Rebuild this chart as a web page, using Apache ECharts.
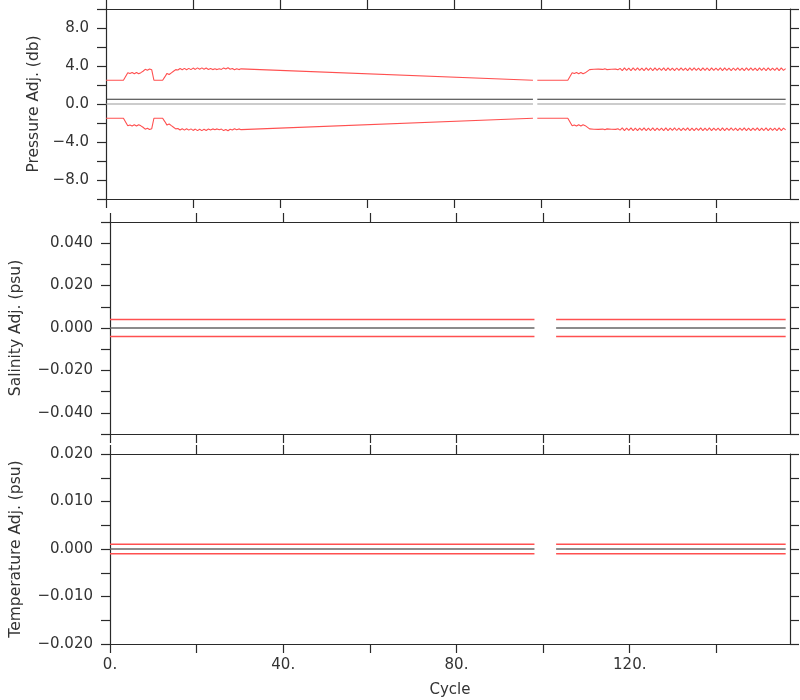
<!DOCTYPE html>
<html><head><meta charset="utf-8">
<script src="https://cdn.jsdelivr.net/npm/echarts@6/dist/echarts.min.js"></script>
<style>html,body{margin:0;padding:0;background:#fff}#c{width:800px;height:700px}</style>
</head><body><div id="c"></div>
<script>
// ---------- data ----------
const xTickValues = [0, 20, 40, 60, 80, 100, 120, 140];
const xLabelValues = [0, 40, 80, 120];
const panelNames = ['Pressure Adj. (db)', 'Salinity Adj. (psu)', 'Temperature Adj. (psu)'];

// Pressure: adjustment 0.5 db, error bounds
const pAdj = 0.5;
const pZero = 0;
// segment A (cycles 0..98)
const pCycAHead = [0, 4, 5, 5.5, 6, 6.5, 7, 7.5, 8, 8.5, 9, 9.5, 10, 10.5, 11, 13, 13.5, 14, 14.5, 15, 15.5, 16];
const pErrAHead = [2.0, 2.0, 2.8, 2.7, 2.82, 2.68, 2.82, 2.68, 2.8, 2.95, 3.15, 3.05, 3.18, 3.1, 2.0, 2.0, 2.35, 2.72, 2.6, 2.78, 2.95, 3.12];
const pZigAStart = 16.5; // half-cycle steps
const pZigA = [3.08, 3.24, 3.1, 3.25, 3.1, 3.25, 3.12, 3.28, 3.14, 3.3, 3.16, 3.3, 3.16, 3.28, 3.14, 3.24, 3.12, 3.2, 3.12, 3.22, 3.14, 3.3, 3.18, 3.32, 3.16, 3.24, 3.1, 3.22, 3.12, 3.2];
const pCycATail = [98];
const pErrATail = [2.0];
// segment B (cycles 99..156)
const pCycBHead = [99, 106, 107, 107.5, 108, 108.5, 109, 109.5, 110, 111, 112, 113, 114, 114.5, 115, 116, 117, 117.5, 118];
const pErrBHead = [2.0, 2.0, 2.8, 2.7, 2.82, 2.68, 2.82, 2.68, 2.78, 3.12, 3.15, 3.17, 3.14, 3.2, 3.12, 3.15, 3.17, 3.1, 3.25];
const pZigBStart = 118.5;
const pZigB = [
  3.02, 3.30, 3.04, 3.28, 3.02, 3.30, 3.05, 3.30, 3.03, 3.28,
  3.02, 3.30, 3.04, 3.29, 3.02, 3.30, 3.03, 3.28, 3.05, 3.30,
  3.02, 3.30, 3.04, 3.28, 3.02, 3.29, 3.03, 3.30, 3.04, 3.28,
  3.02, 3.30, 3.05, 3.30, 3.03, 3.28, 3.02, 3.30, 3.04, 3.29,
  3.02, 3.30, 3.03, 3.28, 3.05, 3.30, 3.02, 3.30, 3.04, 3.28,
  3.02, 3.29, 3.03, 3.30, 3.04, 3.28, 3.02, 3.30, 3.05, 3.30,
  3.03, 3.28, 3.02, 3.30, 3.04, 3.29, 3.02, 3.30, 3.03, 3.28,
  3.05, 3.30, 3.02, 3.30, 3.04, 3.22];

// Salinity and temperature: two segments with a gap between cycle 98 and 103
const stCycA = [0, 98];
const stCycB = [103, 156];
const sAdj = [0, 0];
const sErr = [0.004, 0.004];
const tAdj = [0, 0];
const tErr = [0.001, 0.001];

// ---------- build ----------
function zigCycles(start, n) { const a = []; for (let i = 0; i < n; i++) a.push(start + i * 0.5); return a; }
const pCycA = pCycAHead.concat(zigCycles(pZigAStart, pZigA.length), pCycATail);
const pErrA = pErrAHead.concat(pZigA, pErrATail);
const pCycB = pCycBHead.concat(zigCycles(pZigBStart, pZigB.length));
const pErrB = pErrBHead.concat(pZigB);

const RED = '#ff5050';
const FONT = 'DejaVu Sans';
const FS = 15;
const TXT = '#333';
const AX = '#2a2a2a';

function line(g, xs, ys, color, width, z) {
  return {
    type: 'line', xAxisIndex: g * 2, yAxisIndex: g * 2,
    data: xs.map((x, i) => [x, ys[i]]),
    symbol: 'none', showSymbol: false, silent: true, animation: false,
    lineStyle: { color: color, width: width }, z: z
  };
}

const series = [];
// pressure
[[pCycA, pErrA], [pCycB, pErrB]].forEach(([xs, es]) => {
  series.push(line(0, xs, xs.map(() => pZero), '#999', 1.2, 2));
  series.push(line(0, xs, xs.map(() => pAdj), '#333', 1.2, 2));
  series.push(line(0, xs, es.map(e => pAdj + e), RED, 1.1, 3));
  series.push(line(0, xs, es.map(e => pAdj - e), RED, 1.1, 3));
});
// salinity & temperature
[[1, sAdj, sErr], [2, tAdj, tErr]].forEach(([g, adj, err]) => {
  [stCycA, stCycB].forEach(xs => {
    series.push(line(g, xs, adj, '#666', 1.4, 2));
    series.push(line(g, xs, adj.map((a, i) => a + err[i]), RED, 1.4, 3));
    series.push(line(g, xs, adj.map((a, i) => a - err[i]), RED, 1.4, 3));
  });
});

const grids = [
  { left: 106, right: 10, top: 9, height: 190 },
  { left: 106, right: 10, top: 222, height: 212 },
  { left: 106, right: 10, top: 454, height: 190 }
];

const xAxes = [], yAxes = [];
const lineStyle = { color: AX, width: 1.2 };
function fmtSigned(v, d) { const s = Math.abs(v).toFixed(d); return (v < -1e-12 ? '\u2212' : '') + s; }

const yDefs = [
  { min: -10, max: 10, interval: 2, nameGap: 56,
    fmt: v => { const r = Math.round(v); return (r % 4 === 0 && Math.abs(r) < 10) ? fmtSigned(r, 1) : ''; } },
  { min: -0.05, max: 0.05, interval: 0.01, nameGap: 86,
    fmt: v => { const r = Math.round(v * 1000); return (r % 20 === 0 && Math.abs(r) < 50) ? fmtSigned(r / 1000, 3) : ''; } },
  { min: -0.02, max: 0.02, interval: 0.005, nameGap: 86,
    fmt: v => { const r = Math.round(v * 1000); return (r % 10 === 0) ? fmtSigned(r / 1000, 3) : ''; } }
];

for (let g = 0; g < 3; g++) {
  const last = g === 2;
  xAxes.push({
    type: 'value', gridIndex: g, position: 'bottom', min: 0, max: 157,
    axisLine: { show: true, onZero: false, lineStyle }, splitLine: { show: false },
    axisTick: { show: true, inside: false, length: 9, lineStyle, customValues: xTickValues },
    axisLabel: { show: last, customValues: xLabelValues, formatter: v => v + '.', margin: 14,
      fontFamily: FONT, fontSize: FS, color: TXT },
    name: last ? 'Cycle' : '', nameLocation: 'middle', nameGap: 39,
    nameTextStyle: { fontFamily: FONT, fontSize: FS, color: TXT }
  });
  xAxes.push({
    type: 'value', gridIndex: g, position: 'top', min: 0, max: 157,
    axisLine: { show: true, onZero: false, lineStyle }, splitLine: { show: false },
    axisTick: { show: true, inside: false, length: 9, lineStyle, customValues: xTickValues },
    axisLabel: { show: false }
  });
  const d = yDefs[g];
  yAxes.push({
    type: 'value', gridIndex: g, position: 'left', min: d.min, max: d.max, interval: d.interval,
    axisLine: { show: true, onZero: false, lineStyle }, splitLine: { show: false },
    axisTick: { show: true, inside: false, length: 9, lineStyle },
    axisLabel: { formatter: d.fmt, margin: 17, fontFamily: FONT, fontSize: FS, color: TXT,
      showMinLabel: true, showMaxLabel: true },
    name: panelNames[g], nameLocation: 'middle', nameGap: d.nameGap, nameRotate: 90,
    nameTextStyle: { fontFamily: FONT, fontSize: 15.5, color: TXT }
  });
  yAxes.push({
    type: 'value', gridIndex: g, position: 'right', min: d.min, max: d.max, interval: d.interval,
    axisLine: { show: true, onZero: false, lineStyle }, splitLine: { show: false },
    axisTick: { show: true, inside: false, length: 9, lineStyle },
    axisLabel: { show: false }
  });
}

const chart = echarts.init(document.getElementById('c'), null, { renderer: 'canvas' });
chart.setOption({
  animation: false,
  backgroundColor: '#fff',
  grid: grids,
  xAxis: xAxes,
  yAxis: yAxes,
  series: series
});
</script>
</body></html>
